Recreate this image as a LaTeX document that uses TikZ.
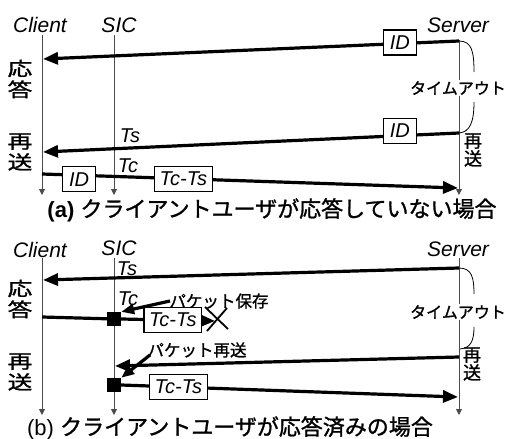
\documentclass[tikz,border=0pt]{standalone}
\usepackage{fontspec}
\usepackage{graphicx}
\setmainfont{Liberation Sans}
\newfontfamily\cjk[FakeBold=1.2]{Noto Sans CJK JP}
\usetikzlibrary{arrows.meta}
\begin{document}
\begin{tikzpicture}[x=1pt,y=-1pt,
  lbl/.style={font=\fontsize{21}{21}\selectfont\itshape, inner sep=0pt, anchor=base, text height=15pt, text depth=0pt},
  tlbl/.style={font=\fontsize{20}{20}\selectfont\itshape, inner sep=0pt, anchor=base, text height=14.5pt, text depth=0pt},
  life/.style={draw=black!70, line width=0.9pt, -{Triangle[length=6pt,width=6pt]}},
  msg/.style={line width=3.2pt, -{Triangle[length=15pt,width=12pt]}},
  msgline/.style={line width=3.2pt},
  pbox/.style={draw, line width=1.2pt, fill=white, font=\fontsize{20}{20}\selectfont\itshape, inner xsep=5pt, inner ysep=0pt, minimum height=25pt, minimum width=33pt},
  jp/.style={font=\fontsize{16.5}{16.5}\cjk, inner sep=1pt},
  tout/.style={font=\fontsize{16}{16}\cjk, inner sep=1pt, fill=white},
  vlbl/.style={font=\fontsize{19}{21}\cjk, inner sep=0pt, align=center},
  rlbl/.style={font=\fontsize{18}{18}\cjk, inner sep=0pt, align=center},
  captext/.style={font=\fontsize{22}{22}\selectfont, inner sep=0pt, anchor=base},
  brace/.style={line width=0.8pt},
  sq/.style={fill=black, minimum size=14pt, inner sep=0pt},
  xline/.style={line width=1.8pt}
]
\useasboundingbox (0,0) rectangle (512,439);
\fill[white] (0,0) rectangle (512,439);

% ---------------- (a) ----------------
\node[lbl] (clientA) at (40,32) {Client};
\node[lbl] (sicA) at (119,32) {SIC};
\node[lbl] (serverA) at (458,32) {Server};

\coordinate (clA0) at (42,35);  \coordinate (clA1) at (42,195);
\coordinate (siA0) at (114,35); \coordinate (siA1) at (114,195);
\coordinate (svA0) at (459,40); \coordinate (svA1) at (459,195);
\draw[life] (clA0) -- (clA1);
\draw[life] (siA0) -- (siA1);
\draw[life] (svA0) -- (svA1);

\coordinate (a1s) at (459,41);  \coordinate (a1c) at (43,59);
\coordinate (a2s) at (459,133); \coordinate (a2c) at (43,152);
\coordinate (a3c) at (42,174);  \coordinate (a3s) at (458,188);

% timeout brace
\coordinate (ta1) at (474,72); \coordinate (ta2) at (474,102);
\draw[brace] (a1s) .. controls (472,41) and (474,52) .. (ta1);
\draw[brace] (ta2) .. controls (474,122) and (470,132) .. (a2s);
\node[tout] (toutA) at (458,88) {タイムアウト};

\draw[msg] (a1s) -- node[pbox,pos=0.142,yshift=1pt] (idA1) {ID} (a1c);
\draw[msg] (a2s) -- node[pbox,pos=0.142,yshift=5pt] (idA2) {ID} (a2c);
\draw[msg] (a3c) -- node[pbox,pos=0.089,yshift=-4pt] (idA3) {ID}
                    node[pbox,pos=0.34] (tctsA) {Tc-Ts} (a3s);

\node[tlbl] (tsA) at (130,142) {Ts};
\node[tlbl] (tcA) at (128,172) {Tc};

\node[vlbl] (respA) at (20,79) {\scalebox{1.3}[1]{応}\\\scalebox{1.3}[1]{答}};
\node[vlbl] (resA) at (20,152) {\scalebox{1.3}[1]{再}\\\scalebox{1.3}[1]{送}};
\node[rlbl] (resSA) at (473,150) {再\\送};

\node[captext] (capA) at (272,217) {\textbf{(a)} {\cjk クライアントユーザが応答していない場合}};

% ---------------- (b) ----------------
\node[lbl] (clientB) at (40,257) {Client};
\node[lbl] (sicB) at (119,255) {SIC};
\node[lbl] (serverB) at (458,256) {Server};

\coordinate (clB0) at (42,258);  \coordinate (clB1) at (42,415);
\coordinate (siB0) at (114,258); \coordinate (siB1) at (114,415);
\coordinate (svB0) at (459,258); \coordinate (svB1) at (459,415);
\draw[life] (clB0) -- (clB1);
\draw[life] (siB0) -- (siB1);
\draw[life] (svB0) -- (svB1);

\coordinate (b1s) at (459,268); \coordinate (b1c) at (43,280);
\coordinate (b2s) at (459,357); \coordinate (b2c) at (115,366);
\coordinate (b0c) at (42,317);
\coordinate (bx) at (215,321);
\coordinate (b3s) at (458,397);

% timeout brace
\coordinate (tb1) at (474,294); \coordinate (tb2) at (474,327);
\coordinate (tb3) at (460,349);
\draw[brace] (b1s) .. controls (472,268) and (474,278) .. (tb1);
\draw[brace] (tb2) .. controls (474,342) and (470,348) .. (tb3);
\node[tout] (toutB) at (458,312) {タイムアウト};

\draw[msg] (b1s) -- (b1c);

\node[sq] (sq1) at (114,319) {};
\node[sq] (sq2) at (114,385) {};

\draw[msgline] (b0c) -- (sq1);
\draw[msg] (sq1.east) -- node[pbox,pos=0.55] (tctsB1) {Tc-Ts} (bx);
\coordinate (x1a) at (205,307); \coordinate (x1b) at (228,329);
\coordinate (x2a) at (207,331); \coordinate (x2b) at (227,308);
\draw[xline] (x1a) -- (x1b);
\draw[xline] (x2a) -- (x2b);

\draw[msg] (b2s) -- (b2c);
\draw[msg] (sq2.east) -- node[pbox,pos=0.17] (tctsB2) {Tc-Ts} (b3s);

\node[tlbl] (tsB) at (127,275) {Ts};
\node[tlbl] (tcB) at (128,305) {Tc};

\node[jp] (saveB) at (219,301) {パケット保存};
\node[jp] (resendB) at (197,350) {パケット再送};
\coordinate (sv0) at (170,301);
\coordinate (rs0) at (150,355);
\draw[msg, -{Triangle[length=13pt,width=10pt]}] (sv0) -- (sq1.north east);
\draw[msg, -{Triangle[length=13pt,width=10pt]}] (rs0) -- (sq2.north east);

\node[vlbl] (respB) at (20,299) {\scalebox{1.3}[1]{応}\\\scalebox{1.3}[1]{答}};
\node[vlbl] (resB) at (20,372) {\scalebox{1.3}[1]{再}\\\scalebox{1.3}[1]{送}};
\node[rlbl] (resSB) at (472,364) {再\\送};

\node[captext] (capB) at (230,435) {(b) {\cjk クライアントユーザが応答済みの場合}};
\end{tikzpicture}
\end{document}
